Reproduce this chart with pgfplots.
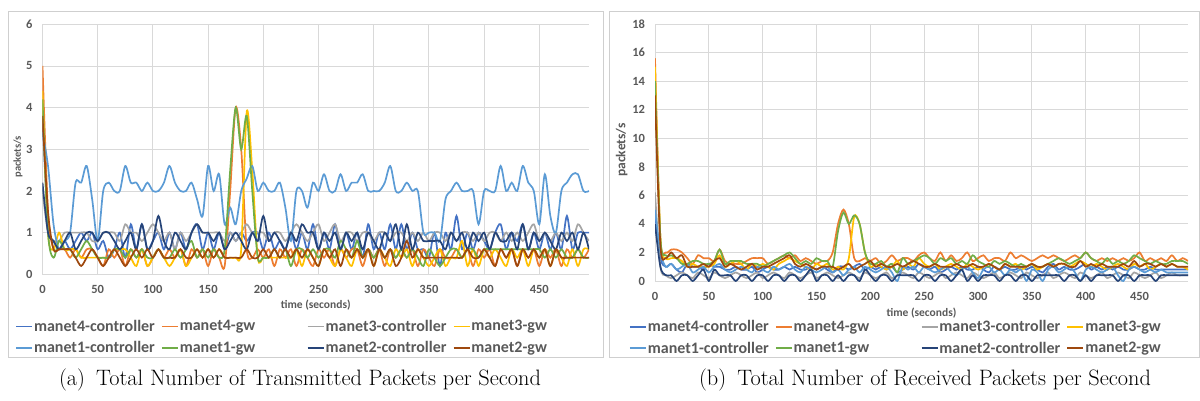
\documentclass[border=0pt]{standalone}
\usepackage{fontspec}
\usepackage{pgfplots}
\pgfplotsset{compat=1.18}
\newfontfamily\calibri{Carlito}
\definecolor{cA}{HTML}{4472C4}
\definecolor{gA}{HTML}{ED7D31}
\definecolor{cB}{HTML}{A5A5A5}
\definecolor{gB}{HTML}{FFC000}
\definecolor{cC}{HTML}{5B9BD5}
\definecolor{gC}{HTML}{70AD47}
\definecolor{cD}{HTML}{264478}
\definecolor{gD}{HTML}{9E480E}
\definecolor{gridgray}{HTML}{D9D9D9}
\definecolor{tickgray}{HTML}{595959}
\definecolor{framegray}{HTML}{CFCFCF}
\pgfplotsset{
  panel/.style={
    scale only axis, anchor=south west,
    xmin=0, xmax=495, ymin=0,
    xtick={0,50,...,450},
    grid=major,
    grid style={draw=gridgray, line width=0.9pt},
    axis line style={draw=none},
    tick style={draw=none},
    /pgf/number format/assume math mode=true,
    ticklabel style={text=tickgray},
    yticklabel style={font=\calibri\bfseries\fontsize{12.5}{14}\selectfont, xshift=-6.5pt},
    every axis plot/.append style={smooth, line width=1.7pt},
    legend columns=4,
    legend cell align=left,
    legend image code/.code={\draw[#1,line width=1.8pt] (0pt,0pt) -- (16pt,0pt);},
    legend style={draw=none, fill=none, anchor=north west, inner sep=0pt,
      font=\calibri\bfseries\fontsize{16}{18}\selectfont, text=tickgray,
      nodes={text width=126pt, inner xsep=1pt, inner ysep=4.3pt}},
  }
}
\begin{document}
\begin{tikzpicture}
\useasboundingbox (0,0) rectangle (1200pt,400pt);
\draw[framegray, line width=0.8pt] (8pt,43pt) rectangle (603pt,389pt);
\draw[framegray, line width=0.8pt] (609pt,43pt) rectangle (1199.5pt,389pt);

\begin{axis}[panel, at={(42.5pt,125.7pt)}, width=546.5pt, height=250pt,
  ymax=6, ytick={0,1,...,6},
  xticklabel style={font=\calibri\bfseries\fontsize{12.5}{14}\selectfont, yshift=-7pt},
  xlabel={time (seconds)}, ylabel={packets/s},
  xlabel style={at={(axis description cs:0.5,-0.1228)}, anchor=center, font=\calibri\bfseries\fontsize{11.5}{13}\selectfont, text=tickgray},
  ylabel style={at={(axis description cs:-0.0448,0.47)}, anchor=center, rotate=0, font=\calibri\bfseries\fontsize{10.5}{12}\selectfont, text=tickgray},
  legend style={at={(axis description cs:-0.0503,-0.165)}},
]
\addplot[cA] coordinates {(0,3.8)(5,1.2)(10,0.8)(15,0.6)(20,0.8)(25,0.6)(30,0.8)(35,1.0)(40,0.8)(45,1.0)(50,0.6)(55,0.8)(60,0.4)(65,0.6)(70,1.0)(75,0.4)(80,1.2)(85,0.6)(90,1.2)(95,0.6)(100,0.8)(105,1.0)(110,0.6)(115,1.0)(120,0.6)(125,1.0)(130,0.6)(135,1.0)(140,1.2)(145,0.6)(150,1.0)(155,0.6)(160,1.0)(165,0.6)(170,1.0)(175,0.8)(180,1.0)(185,0.8)(190,1.0)(195,1.0)(200,0.6)(205,1.0)(210,0.6)(215,0.8)(220,0.6)(225,1.0)(230,0.6)(235,1.0)(240,0.6)(245,1.2)(250,0.6)(255,1.0)(260,0.6)(265,1.2)(270,0.6)(275,1.0)(280,0.6)(285,1.0)(290,0.4)(295,1.2)(300,0.6)(305,1.0)(310,0.6)(315,1.2)(320,0.6)(325,1.2)(330,0.6)(335,1.0)(340,0.6)(345,0.6)(350,0.4)(355,1.0)(360,0.2)(365,1.0)(370,0.6)(375,1.4)(380,0.6)(385,1.0)(390,0.6)(395,1.0)(400,0.8)(405,0.6)(410,1.0)(415,1.2)(420,0.6)(425,1.0)(430,0.8)(435,1.2)(440,0.6)(445,1.0)(450,0.6)(455,1.0)(460,0.6)(465,1.0)(470,0.6)(475,1.4)(480,0.6)(485,1.0)(490,1.0)(495,1.0)};
\addlegendentry{manet4-controller}
\addplot[gA] coordinates {(0,5.0)(5,1.5)(10,0.6)(15,0.6)(20,0.6)(25,0.4)(30,0.6)(35,0.4)(40,0.6)(45,0.6)(50,0.4)(55,0.2)(60,0.6)(65,0.4)(70,0.6)(75,0.2)(80,0.6)(85,0.4)(90,0.6)(95,0.2)(100,0.4)(105,0.6)(110,0.4)(115,0.6)(120,0.4)(125,0.6)(130,0.2)(135,0.6)(140,0.4)(145,0.6)(150,0.2)(155,0.6)(160,0.4)(165,0.2)(170,2.0)(175,4.0)(180,3.0)(185,0.6)(190,0.4)(195,0.6)(200,0.4)(205,0.6)(210,0.2)(215,0.6)(220,0.4)(225,0.6)(230,0.2)(235,0.6)(240,0.4)(245,0.2)(250,0.6)(255,0.4)(260,0.6)(265,0.2)(270,0.6)(275,0.4)(280,0.6)(285,0.6)(290,0.2)(295,0.6)(300,0.4)(305,0.6)(310,0.2)(315,0.6)(320,0.4)(325,0.6)(330,0.4)(335,0.6)(340,0.2)(345,0.6)(350,0.4)(355,0.2)(360,0.6)(365,0.4)(370,0.4)(375,0.6)(380,0.4)(385,0.6)(390,0.2)(395,0.6)(400,0.4)(405,0.6)(410,0.2)(415,0.6)(420,0.4)(425,0.6)(430,0.2)(435,0.6)(440,0.4)(445,0.6)(450,0.2)(455,0.6)(460,0.4)(465,0.6)(470,0.2)(475,0.6)(480,0.4)(485,0.6)(490,0.4)(495,0.6)};
\addlegendentry{manet4-gw}
\addplot[cB] coordinates {(0,2.0)(5,1.0)(10,0.8)(15,0.8)(20,1.0)(25,1.0)(30,1.0)(35,1.0)(40,1.0)(45,0.8)(50,0.8)(55,1.0)(60,1.0)(65,1.0)(70,0.8)(75,1.2)(80,1.0)(85,1.0)(90,0.8)(95,1.0)(100,1.2)(105,1.0)(110,0.8)(115,1.0)(120,0.6)(125,1.0)(130,0.8)(135,1.0)(140,1.2)(145,1.0)(150,1.0)(155,1.0)(160,1.0)(165,0.8)(170,1.0)(175,0.8)(180,1.0)(185,1.2)(190,1.0)(195,1.0)(200,1.0)(205,0.8)(210,1.0)(215,1.0)(220,0.8)(225,1.0)(230,1.2)(235,1.0)(240,0.8)(245,1.0)(250,1.2)(255,0.8)(260,1.0)(265,1.2)(270,0.8)(275,1.0)(280,1.0)(285,0.8)(290,1.0)(295,1.0)(300,0.8)(305,1.0)(310,1.0)(315,0.8)(320,1.0)(325,1.0)(330,0.8)(335,1.0)(340,0.8)(345,1.0)(350,0.8)(355,1.0)(360,1.0)(365,0.8)(370,1.0)(375,0.8)(380,1.0)(385,1.0)(390,0.8)(395,1.0)(400,0.8)(405,1.0)(410,1.0)(415,0.8)(420,1.0)(425,0.8)(430,1.0)(435,0.8)(440,1.0)(445,1.2)(450,0.8)(455,1.0)(460,0.8)(465,1.0)(470,0.8)(475,1.0)(480,0.8)(485,1.2)(490,1.0)(495,0.8)};
\addlegendentry{manet3-controller}
\addplot[gB] coordinates {(0,4.4)(5,1.0)(10,0.6)(15,1.0)(20,0.6)(25,0.6)(30,0.6)(35,0.4)(40,0.4)(45,0.4)(50,0.4)(55,0.4)(60,0.4)(65,0.6)(70,0.6)(75,0.6)(80,0.4)(85,0.2)(90,0.6)(95,0.2)(100,0.4)(105,0.6)(110,0.4)(115,0.2)(120,0.4)(125,0.6)(130,0.2)(135,0.4)(140,0.6)(145,0.4)(150,0.6)(155,0.4)(160,0.6)(165,0.4)(170,0.4)(175,0.4)(180,0.6)(185,3.9)(190,2.5)(195,0.4)(200,0.4)(205,0.4)(210,0.4)(215,0.4)(220,0.4)(225,0.4)(230,0.6)(235,0.2)(240,0.6)(245,0.4)(250,0.2)(255,0.6)(260,0.4)(265,0.2)(270,0.6)(275,0.4)(280,0.2)(285,0.6)(290,0.4)(295,0.6)(300,0.2)(305,0.6)(310,0.4)(315,0.2)(320,0.6)(325,0.4)(330,0.6)(335,0.2)(340,0.6)(345,0.4)(350,0.2)(355,0.4)(360,0.6)(365,0.2)(370,0.4)(375,0.4)(380,0.8)(385,0.2)(390,0.6)(395,0.2)(400,0.6)(405,0.4)(410,0.6)(415,0.4)(420,0.2)(425,0.6)(430,0.4)(435,0.6)(440,0.2)(445,0.6)(450,0.4)(455,0.6)(460,0.2)(465,0.6)(470,0.4)(475,0.2)(480,0.6)(485,0.2)(490,0.6)(495,0.6)};
\addlegendentry{manet3-gw}
\addplot[cC] coordinates {(0,3.4)(5,2.6)(10,1.2)(15,0.6)(20,0.8)(25,1.0)(30,2.2)(35,2.2)(40,2.6)(45,1.8)(50,0.8)(55,2.0)(60,2.2)(65,2.0)(70,2.0)(75,2.6)(80,2.2)(85,2.2)(90,2.0)(95,2.2)(100,2.0)(105,2.0)(110,2.2)(115,2.6)(120,2.2)(125,2.0)(130,2.0)(135,2.2)(140,1.8)(145,1.4)(150,2.6)(155,2.0)(160,2.4)(165,1.2)(170,1.6)(175,1.2)(180,2.0)(185,2.3)(190,2.6)(195,2.0)(200,2.2)(205,2.0)(210,2.0)(215,2.2)(220,1.6)(225,0.8)(230,2.0)(235,2.0)(240,1.6)(245,2.2)(250,2.0)(255,2.4)(260,2.0)(265,2.0)(270,2.4)(275,2.0)(280,2.2)(285,2.2)(290,2.4)(295,2.0)(300,2.0)(305,2.0)(310,2.2)(315,2.6)(320,2.0)(325,2.0)(330,2.2)(335,2.0)(340,2.0)(345,1.0)(350,1.0)(355,1.0)(360,0.8)(365,1.8)(370,2.0)(375,2.2)(380,2.0)(385,2.0)(390,2.0)(395,1.2)(400,2.0)(405,2.0)(410,2.0)(415,2.6)(420,2.0)(425,2.2)(430,2.0)(435,2.6)(440,2.2)(445,2.0)(450,1.2)(455,2.4)(460,1.4)(465,1.0)(470,2.0)(475,2.2)(480,2.4)(485,2.4)(490,2.0)(495,2.0)};
\addlegendentry{manet1-controller}
\addplot[gC] coordinates {(0,4.2)(5,1.0)(10,0.4)(15,0.8)(20,0.6)(25,0.6)(30,0.4)(35,0.6)(40,0.8)(45,0.6)(50,0.4)(55,0.4)(60,0.4)(65,0.6)(70,0.6)(75,0.4)(80,0.6)(85,0.4)(90,0.6)(95,0.4)(100,0.4)(105,0.6)(110,0.4)(115,0.4)(120,0.6)(125,0.4)(130,0.6)(135,0.8)(140,0.4)(145,0.6)(150,0.4)(155,0.6)(160,0.4)(165,0.6)(170,2.5)(175,4.0)(180,3.0)(185,3.8)(190,2.0)(195,0.4)(200,0.4)(205,0.4)(210,0.6)(215,0.4)(220,0.6)(225,0.2)(230,0.6)(235,0.6)(240,0.4)(245,0.6)(250,0.4)(255,0.6)(260,0.6)(265,0.4)(270,0.8)(275,0.6)(280,0.4)(285,0.8)(290,0.4)(295,0.6)(300,0.4)(305,0.6)(310,0.4)(315,0.6)(320,0.4)(325,0.6)(330,0.4)(335,0.6)(340,0.4)(345,0.2)(350,0.6)(355,0.4)(360,0.2)(365,0.4)(370,0.6)(375,0.6)(380,0.4)(385,0.6)(390,0.6)(395,0.4)(400,0.6)(405,0.6)(410,0.6)(415,0.6)(420,0.6)(425,0.6)(430,0.6)(435,0.6)(440,0.6)(445,0.6)(450,0.6)(455,0.4)(460,0.6)(465,0.4)(470,0.6)(475,0.4)(480,0.4)(485,0.6)(490,0.4)(495,0.4)};
\addlegendentry{manet1-gw}
\addplot[cD] coordinates {(0,2.2)(5,1.0)(10,0.8)(15,0.6)(20,0.8)(25,1.0)(30,0.6)(35,0.8)(40,1.0)(45,1.0)(50,0.8)(55,1.0)(60,1.0)(65,0.8)(70,0.6)(75,0.8)(80,1.0)(85,0.6)(90,1.2)(95,0.6)(100,0.8)(105,1.4)(110,0.8)(115,0.6)(120,1.0)(125,0.8)(130,0.6)(135,1.0)(140,1.2)(145,1.0)(150,1.0)(155,0.8)(160,1.0)(165,0.6)(170,0.8)(175,1.0)(180,0.8)(185,0.6)(190,1.0)(195,0.8)(200,1.4)(205,0.8)(210,1.0)(215,0.8)(220,0.6)(225,1.0)(230,0.8)(235,1.2)(240,1.0)(245,1.0)(250,0.6)(255,1.0)(260,0.8)(265,1.0)(270,0.6)(275,1.0)(280,0.8)(285,1.0)(290,0.6)(295,1.0)(300,0.8)(305,0.6)(310,1.0)(315,0.8)(320,1.2)(325,0.6)(330,1.2)(335,0.6)(340,1.0)(345,0.8)(350,0.8)(355,0.8)(360,0.8)(365,0.6)(370,1.0)(375,0.8)(380,1.0)(385,0.6)(390,1.0)(395,0.8)(400,1.0)(405,0.6)(410,1.0)(415,0.8)(420,0.8)(425,1.0)(430,0.6)(435,1.2)(440,0.6)(445,1.0)(450,0.8)(455,1.0)(460,0.8)(465,0.6)(470,1.0)(475,0.8)(480,1.0)(485,0.6)(490,1.0)(495,0.6)};
\addlegendentry{manet2-controller}
\addplot[gD] coordinates {(0,3.8)(5,1.5)(10,0.6)(15,0.6)(20,0.6)(25,0.6)(30,0.4)(35,0.2)(40,0.4)(45,0.6)(50,0.4)(55,0.2)(60,0.4)(65,0.6)(70,0.4)(75,0.2)(80,0.4)(85,0.6)(90,0.4)(95,0.6)(100,0.4)(105,0.6)(110,0.4)(115,0.4)(120,0.4)(125,0.6)(130,0.4)(135,0.4)(140,0.6)(145,0.4)(150,0.6)(155,0.4)(160,0.6)(165,0.4)(170,0.4)(175,0.4)(180,0.4)(185,0.6)(190,0.4)(195,0.4)(200,0.6)(205,0.4)(210,0.6)(215,0.4)(220,0.6)(225,0.4)(230,0.6)(235,0.4)(240,0.6)(245,0.4)(250,0.2)(255,0.6)(260,0.4)(265,0.6)(270,0.2)(275,0.6)(280,0.4)(285,0.6)(290,0.4)(295,0.6)(300,0.2)(305,0.6)(310,0.4)(315,0.6)(320,0.2)(325,0.4)(330,0.8)(335,0.4)(340,0.6)(345,0.4)(350,0.4)(355,0.4)(360,0.4)(365,0.4)(370,0.4)(375,0.4)(380,0.4)(385,0.6)(390,0.4)(395,0.4)(400,0.6)(405,0.4)(410,0.2)(415,0.6)(420,0.4)(425,0.6)(430,0.2)(435,0.6)(440,0.4)(445,0.6)(450,0.4)(455,0.6)(460,0.2)(465,0.6)(470,0.4)(475,0.4)(480,0.4)(485,0.4)(490,0.4)(495,0.4)};
\addlegendentry{manet2-gw}
\end{axis}

\begin{axis}[panel, at={(655pt,119pt)}, width=533pt, height=257pt,
  ymax=18, ytick={0,2,...,18},
  xticklabel style={font=\calibri\bfseries\fontsize{12.5}{14}\selectfont, yshift=-8pt},
  xlabel={time (seconds)}, ylabel={packets/s},
  xlabel style={at={(axis description cs:0.5,-0.1245)}, anchor=center, font=\calibri\bfseries\fontsize{11.5}{13}\selectfont, text=tickgray},
  ylabel style={at={(axis description cs:-0.0625,0.51)}, anchor=center, rotate=0, font=\calibri\bfseries\fontsize{13.5}{15}\selectfont, text=tickgray},
  legend style={at={(axis description cs:-0.049,-0.136)}},
]
\addplot[cA] coordinates {(0,4.8)(5,1.6)(10,1.0)(15,1.2)(20,0.8)(25,0.6)(30,1.2)(35,1.0)(40,1.0)(45,0.8)(50,1.2)(55,1.0)(60,1.0)(65,0.8)(70,0.8)(75,1.0)(80,0.8)(85,0.8)(90,1.0)(95,0.6)(100,0.8)(105,1.0)(110,0.8)(115,0.8)(120,1.0)(125,0.8)(130,1.0)(135,0.8)(140,0.8)(145,1.0)(150,0.8)(155,1.0)(160,0.8)(165,0.6)(170,1.0)(175,1.0)(180,0.8)(185,1.0)(190,1.2)(195,0.8)(200,1.0)(205,0.8)(210,1.0)(215,0.8)(220,1.0)(225,0.6)(230,0.8)(235,1.0)(240,0.8)(245,1.2)(250,1.0)(255,0.8)(260,1.0)(265,0.6)(270,0.8)(275,1.0)(280,0.8)(285,1.0)(290,0.8)(295,0.8)(300,1.0)(305,0.8)(310,0.6)(315,1.0)(320,0.8)(325,1.0)(330,0.8)(335,0.8)(340,1.0)(345,0.8)(350,1.0)(355,0.8)(360,0.6)(365,1.0)(370,1.2)(375,0.8)(380,1.0)(385,0.8)(390,0.8)(395,1.0)(400,1.2)(405,0.8)(410,1.0)(415,0.8)(420,1.0)(425,0.8)(430,1.0)(435,0.8)(440,0.8)(445,1.0)(450,0.8)(455,0.8)(460,1.0)(465,0.8)(470,0.8)(475,0.8)(480,0.8)(485,0.8)(490,0.8)(495,0.8)};
\addlegendentry{manet4-controller}
\addplot[gA] coordinates {(0,15.6)(5,3.0)(10,2.0)(15,2.2)(20,2.2)(25,2.0)(30,1.6)(35,1.2)(40,1.8)(45,1.6)(50,1.6)(55,1.4)(60,2.2)(65,1.4)(70,1.2)(75,1.2)(80,1.2)(85,1.4)(90,1.6)(95,1.6)(100,1.6)(105,1.2)(110,1.4)(115,1.6)(120,1.8)(125,1.6)(130,1.8)(135,1.4)(140,1.6)(145,1.4)(150,1.2)(155,1.4)(160,1.4)(165,2.0)(170,4.0)(175,5.0)(180,4.0)(185,1.6)(190,1.4)(195,1.6)(200,1.4)(205,1.6)(210,1.2)(215,1.4)(220,1.8)(225,1.4)(230,1.6)(235,1.6)(240,1.4)(245,1.8)(250,2.0)(255,1.6)(260,1.4)(265,2.0)(270,1.4)(275,1.8)(280,1.4)(285,1.6)(290,2.0)(295,1.4)(300,1.6)(305,1.8)(310,1.4)(315,1.6)(320,1.6)(325,1.4)(330,2.0)(335,1.6)(340,1.8)(345,1.6)(350,1.4)(355,1.6)(360,1.8)(365,1.6)(370,1.8)(375,1.6)(380,1.4)(385,1.6)(390,1.8)(395,1.6)(400,2.0)(405,1.6)(410,1.4)(415,1.6)(420,1.4)(425,1.6)(430,1.4)(435,1.6)(440,1.4)(445,1.6)(450,2.0)(455,1.4)(460,1.6)(465,1.4)(470,1.6)(475,1.4)(480,1.8)(485,1.4)(490,1.6)(495,1.4)};
\addlegendentry{manet4-gw}
\addplot[cB] coordinates {(0,6.2)(5,1.0)(10,0.4)(15,0.2)(20,0.4)(25,0.6)(30,0.4)(35,0.2)(40,0.6)(45,0.4)(50,0.2)(55,0.6)(60,0.4)(65,0.2)(70,0.4)(75,0.6)(80,0.4)(85,0.2)(90,0.4)(95,0.6)(100,0.2)(105,0.4)(110,0.6)(115,0.4)(120,0.2)(125,0.6)(130,0.4)(135,0.2)(140,0.4)(145,0.6)(150,0.2)(155,0.4)(160,0.6)(165,0.4)(170,0.2)(175,0.4)(180,0.6)(185,0.4)(190,0.2)(195,0.6)(200,0.4)(205,0.2)(210,0.4)(215,0.6)(220,0.2)(225,0.4)(230,0.6)(235,0.4)(240,0.2)(245,0.6)(250,0.4)(255,0.2)(260,0.4)(265,0.6)(270,0.2)(275,0.4)(280,0.6)(285,0.4)(290,0.2)(295,0.6)(300,0.4)(305,0.2)(310,0.4)(315,0.6)(320,0.2)(325,0.4)(330,0.6)(335,0.4)(340,0.2)(345,0.6)(350,0.4)(355,0.2)(360,0.4)(365,0.6)(370,0.2)(375,0.4)(380,0.6)(385,0.4)(390,0.2)(395,0.6)(400,0.4)(405,0.2)(410,0.4)(415,0.6)(420,0.2)(425,0.4)(430,0.6)(435,0.4)(440,0.2)(445,0.6)(450,0.4)(455,0.2)(460,0.4)(465,0.6)(470,0.2)(475,0.4)(480,0.6)(485,0.4)(490,0.4)(495,0.4)};
\addlegendentry{manet3-controller}
\addplot[gB] coordinates {(0,15.0)(5,3.0)(10,1.6)(15,1.6)(20,1.6)(25,1.4)(30,1.0)(35,1.2)(40,1.0)(45,1.0)(50,1.0)(55,1.2)(60,1.8)(65,1.0)(70,1.2)(75,1.4)(80,1.2)(85,0.8)(90,1.2)(95,1.0)(100,1.2)(105,1.0)(110,0.8)(115,1.2)(120,1.4)(125,1.6)(130,1.4)(135,1.2)(140,1.0)(145,0.8)(150,1.2)(155,1.0)(160,1.2)(165,0.8)(170,1.0)(175,0.8)(180,1.6)(185,4.5)(190,4.0)(195,2.0)(200,1.0)(205,1.2)(210,1.0)(215,0.8)(220,1.0)(225,1.4)(230,0.8)(235,1.2)(240,1.0)(245,1.6)(250,1.2)(255,1.0)(260,1.2)(265,0.8)(270,1.0)(275,1.2)(280,1.0)(285,0.8)(290,1.2)(295,1.0)(300,0.8)(305,1.0)(310,1.2)(315,1.0)(320,0.8)(325,1.2)(330,1.0)(335,1.2)(340,0.8)(345,1.0)(350,1.2)(355,0.8)(360,1.0)(365,1.2)(370,1.0)(375,1.2)(380,1.2)(385,1.0)(390,1.2)(395,1.4)(400,1.2)(405,1.0)(410,1.2)(415,1.0)(420,0.8)(425,1.0)(430,1.2)(435,1.0)(440,0.8)(445,1.2)(450,1.0)(455,1.2)(460,0.8)(465,1.0)(470,1.2)(475,1.0)(480,1.2)(485,1.0)(490,1.0)(495,0.8)};
\addlegendentry{manet3-gw}
\addplot[cC] coordinates {(0,5.0)(5,2.0)(10,1.0)(15,1.2)(20,0.8)(25,1.0)(30,1.2)(35,0.6)(40,0.8)(45,1.0)(50,0.6)(55,1.0)(60,1.2)(65,0.8)(70,0.6)(75,0.8)(80,1.0)(85,0.8)(90,0.6)(95,1.0)(100,0.8)(105,0.6)(110,1.0)(115,0.8)(120,1.0)(125,1.2)(130,0.8)(135,0.6)(140,1.0)(145,0.8)(150,0.6)(155,0.8)(160,1.0)(165,0.6)(170,0.8)(175,0.4)(180,0.8)(185,1.0)(190,0.6)(195,1.0)(200,0.8)(205,0.6)(210,0.8)(215,1.0)(220,0.6)(225,0.0)(230,1.0)(235,0.8)(240,1.0)(245,0.6)(250,1.0)(255,0.8)(260,0.6)(265,0.8)(270,1.0)(275,0.6)(280,0.4)(285,0.8)(290,1.0)(295,0.6)(300,0.2)(305,0.8)(310,1.0)(315,0.6)(320,0.8)(325,0.4)(330,0.8)(335,0.6)(340,0.8)(345,0.0)(350,0.8)(355,0.6)(360,0.0)(365,0.8)(370,1.0)(375,0.6)(380,0.8)(385,1.0)(390,0.6)(395,0.0)(400,0.8)(405,1.0)(410,0.8)(415,0.6)(420,0.8)(425,1.0)(430,0.4)(435,0.0)(440,0.8)(445,1.0)(450,0.8)(455,0.6)(460,0.8)(465,0.6)(470,0.8)(475,0.6)(480,0.6)(485,0.6)(490,0.6)(495,0.6)};
\addlegendentry{manet1-controller}
\addplot[gC] coordinates {(0,14.0)(5,3.0)(10,1.8)(15,1.8)(20,1.6)(25,1.2)(30,1.2)(35,1.4)(40,1.4)(45,1.2)(50,1.2)(55,1.4)(60,2.2)(65,1.2)(70,1.4)(75,1.4)(80,1.4)(85,1.2)(90,1.2)(95,1.2)(100,1.0)(105,1.2)(110,1.4)(115,1.6)(120,1.8)(125,2.0)(130,1.6)(135,1.2)(140,1.4)(145,1.2)(150,1.6)(155,1.4)(160,1.4)(165,1.0)(170,3.5)(175,4.8)(180,4.0)(185,4.6)(190,4.0)(195,2.0)(200,1.2)(205,1.2)(210,1.4)(215,1.0)(220,1.2)(225,0.6)(230,1.6)(235,1.2)(240,1.4)(245,1.6)(250,1.8)(255,1.6)(260,1.2)(265,1.6)(270,1.4)(275,1.6)(280,1.2)(285,1.4)(290,1.2)(295,1.8)(300,1.4)(305,1.2)(310,1.0)(315,1.4)(320,1.2)(325,1.4)(330,1.2)(335,1.0)(340,1.2)(345,1.0)(350,1.2)(355,1.0)(360,1.0)(365,1.2)(370,1.4)(375,1.6)(380,1.4)(385,1.2)(390,1.4)(395,1.6)(400,2.0)(405,1.6)(410,1.4)(415,1.2)(420,1.6)(425,1.2)(430,1.4)(435,1.2)(440,1.4)(445,1.8)(450,1.6)(455,1.4)(460,1.2)(465,1.4)(470,1.2)(475,1.2)(480,1.4)(485,1.4)(490,1.4)(495,1.2)};
\addlegendentry{manet1-gw}
\addplot[cD] coordinates {(0,4.0)(5,1.0)(10,0.4)(15,0.4)(20,0.0)(25,0.4)(30,0.4)(35,0.0)(40,0.4)(45,0.8)(50,0.0)(55,0.8)(60,0.4)(65,0.4)(70,0.4)(75,0.0)(80,0.4)(85,0.4)(90,0.0)(95,0.4)(100,0.4)(105,0.0)(110,0.4)(115,0.4)(120,0.0)(125,0.4)(130,0.4)(135,0.0)(140,0.4)(145,0.8)(150,0.0)(155,0.4)(160,0.4)(165,0.0)(170,0.4)(175,0.0)(180,0.4)(185,0.4)(190,0.0)(195,0.8)(200,0.4)(205,0.0)(210,0.4)(215,0.4)(220,0.0)(225,0.4)(230,0.4)(235,0.4)(240,0.4)(245,0.0)(250,0.4)(255,0.4)(260,0.0)(265,0.4)(270,0.4)(275,0.0)(280,0.4)(285,0.8)(290,0.0)(295,0.4)(300,0.0)(305,0.4)(310,0.4)(315,0.4)(320,0.0)(325,0.4)(330,0.4)(335,0.0)(340,0.4)(345,0.4)(350,0.0)(355,0.4)(360,0.4)(365,0.4)(370,0.4)(375,0.4)(380,0.0)(385,0.4)(390,0.4)(395,0.0)(400,0.4)(405,0.0)(410,0.4)(415,0.4)(420,0.4)(425,0.4)(430,0.0)(435,0.4)(440,0.4)(445,0.0)(450,0.4)(455,0.4)(460,0.4)(465,0.0)(470,0.4)(475,0.4)(480,0.4)(485,0.4)(490,0.4)(495,0.4)};
\addlegendentry{manet2-controller}
\addplot[gD] coordinates {(0,13.0)(5,2.5)(10,1.6)(15,2.0)(20,1.6)(25,1.8)(30,1.0)(35,1.0)(40,1.0)(45,1.2)(50,1.0)(55,1.4)(60,1.6)(65,1.0)(70,1.2)(75,1.0)(80,0.8)(85,1.0)(90,1.2)(95,0.8)(100,1.0)(105,1.0)(110,1.2)(115,1.4)(120,1.6)(125,1.8)(130,1.2)(135,1.0)(140,1.2)(145,1.0)(150,0.8)(155,1.0)(160,1.0)(165,1.0)(170,0.8)(175,1.0)(180,1.2)(185,0.8)(190,1.0)(195,1.2)(200,1.4)(205,1.0)(210,1.2)(215,1.0)(220,1.0)(225,1.2)(230,1.0)(235,1.2)(240,1.4)(245,1.2)(250,1.0)(255,1.0)(260,1.2)(265,1.0)(270,1.0)(275,1.0)(280,1.2)(285,1.0)(290,1.0)(295,1.2)(300,1.0)(305,1.0)(310,1.2)(315,1.0)(320,0.8)(325,1.2)(330,1.0)(335,1.0)(340,1.0)(345,1.0)(350,1.2)(355,1.0)(360,1.0)(365,1.2)(370,1.0)(375,1.2)(380,1.2)(385,1.0)(390,1.0)(395,1.4)(400,1.0)(405,1.2)(410,1.0)(415,1.2)(420,1.0)(425,1.0)(430,1.0)(435,1.2)(440,1.0)(445,1.4)(450,1.0)(455,1.2)(460,1.2)(465,1.0)(470,1.2)(475,1.0)(480,1.2)(485,1.0)(490,1.0)(495,1.0)};
\addlegendentry{manet2-gw}
\end{axis}

\node[font=\fontsize{22.3}{26}\selectfont] at (300pt,20pt) {(a)\enspace Total Number of Transmitted Packets per Second};
\node[font=\fontsize{22.3}{26}\selectfont] at (925pt,20pt) {(b)\enspace Total Number of Received Packets per Second};
\end{tikzpicture}
\end{document}
